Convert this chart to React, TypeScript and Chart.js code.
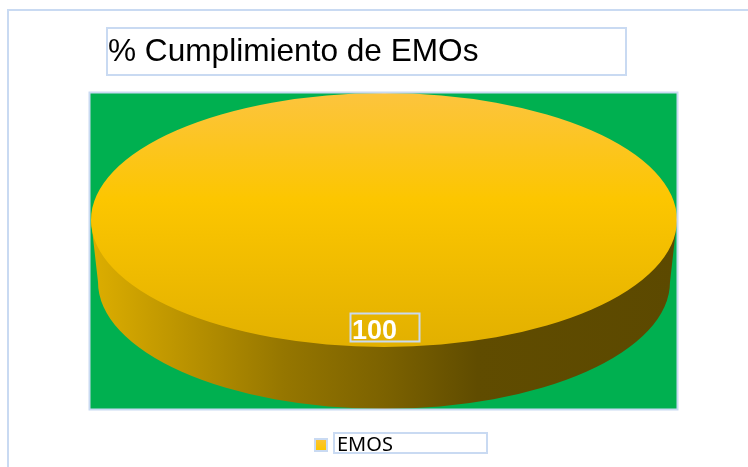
import React, { useEffect, useRef } from "react";
import { Chart, registerables } from "chart.js";

Chart.register(...registerables);

const categories = ["EMOS"];
const values = [100];
const titleText = "% Cumplimiento de EMOs";

const frameColor = "#C9DAF2";
const frames = [
  [8, 10, 760, 480],
  [107, 28, 519, 47],
  [89.5, 92.5, 588, 317],
  [350.5, 313.5, 69, 28],
  [334, 433, 153, 20],
];

function topGradient(ctx: CanvasRenderingContext2D) {
  const g = ctx.createLinearGradient(0, 93, 0, 347);
  g.addColorStop(0, "#FCC43E");
  g.addColorStop(0.42, "#FCC600");
  g.addColorStop(1, "#E2B000");
  return g;
}

function wallGradient(ctx: CanvasRenderingContext2D) {
  const g = ctx.createLinearGradient(91, 0, 677, 0);
  g.addColorStop(0, "#DDAE00");
  g.addColorStop(0.33, "#957600");
  g.addColorStop(0.5, "#7C6200");
  g.addColorStop(0.66, "#604C00");
  g.addColorStop(1, "#5C4900");
  return g;
}

const SQUASH_RX = 293;
const BASE_RX = 286;
const DEPTH = 62;

const pie3d = {
  id: "pie3d",
  beforeDraw(chart: any) {
    const { ctx } = chart;
    ctx.save();
    ctx.fillStyle = "#00B050";
    ctx.fillRect(90, 93, 587, 316);
    ctx.restore();
  },
  afterLayout(chart: any) {
    chart.titleBlock.left = 108;
    const legend = chart.legend;
    legend.left = 311;
    legend.right = 460;
    legend.width = 149;
    legend.top = 431;
    legend.bottom = 461;
    legend.height = 30;
  },
  beforeDatasetsDraw(chart: any) {
    const { ctx } = chart;
    const arc = chart.getDatasetMeta(0).data[0];
    const { x, y, outerRadius: r } = arc;
    const sx = SQUASH_RX / r;
    ctx.save();
    ctx.fillStyle = wallGradient(ctx);
    ctx.beginPath();
    ctx.moveTo(x - SQUASH_RX, y);
    ctx.lineTo(x - BASE_RX, y + DEPTH);
    ctx.ellipse(x, y + DEPTH, BASE_RX, r, 0, Math.PI, 0, true);
    ctx.lineTo(x + SQUASH_RX, y);
    ctx.closePath();
    ctx.fill();
    ctx.restore();
    ctx.save();
    ctx.translate(x, y);
    ctx.scale(sx, 1);
    ctx.translate(-x, -y);
  },
  afterDatasetsDraw(chart: any) {
    const { ctx } = chart;
    ctx.restore();
    const arc = chart.getDatasetMeta(0).data[0];
    ctx.save();
    ctx.fillStyle = "#FFFFFF";
    ctx.font = "bold 27px 'Liberation Sans'";
    ctx.textAlign = "left";
    ctx.textBaseline = "alphabetic";
    ctx.fillText(String(values[0]), 352, arc.y + 119);
    ctx.restore();
  },
  afterDraw(chart: any) {
    const { ctx } = chart;
    ctx.save();
    ctx.strokeStyle = frameColor;
    ctx.lineWidth = 2;
    for (const [x, y, w, h] of frames) ctx.strokeRect(x, y, w, h);
    ctx.restore();
  },
};

export default function App() {
  const ref = useRef<HTMLCanvasElement>(null);
  useEffect(() => {
    const canvas = ref.current!;
    const ctx = canvas.getContext("2d")!;
    const swatch = ctx.createLinearGradient(0, 438, 0, 450);
    swatch.addColorStop(0, "#FCC43E");
    swatch.addColorStop(1, "#FCC600");
    const chart = new Chart(canvas, {
      type: "pie",
      data: {
        labels: categories,
        datasets: [
          {
            data: values,
            backgroundColor: () => topGradient(ctx),
            borderWidth: 0,
            clip: false,
          } as any,
        ],
      },
      plugins: [pie3d],
      options: {
        animation: false,
        responsive: false,
        events: [],
        layout: { padding: { left: 91, right: 71, top: 0, bottom: 86 } },
        plugins: {
          tooltip: { enabled: false },
          title: {
            display: true,
            text: titleText,
            align: "start",
            color: "#000000",
            font: { family: "'Liberation Sans'", size: 31.6, weight: "normal", lineHeight: 40 / 31.6 },
            padding: { top: 32, bottom: 21 },
          },
          legend: {
            display: true,
            position: "bottom",
            align: "start",
            labels: {
              boxWidth: 12,
              boxHeight: 12,
              padding: 4,
              color: "#000000",
              font: { family: "'Noto Sans'", size: 20 },
              generateLabels: () => [
                {
                  text: categories[0],
                  fillStyle: swatch,
                  strokeStyle: frameColor,
                  lineWidth: 2,
                  hidden: false,
                  index: 0,
                } as any,
              ],
            },
          },
        },
      },
    });
    return () => chart.destroy();
  }, []);
  return (
    <canvas
      ref={ref}
      width={748}
      height={467}
      style={{ position: "fixed", left: 0, top: 0, width: 748, height: 467 }}
    />
  );
}
